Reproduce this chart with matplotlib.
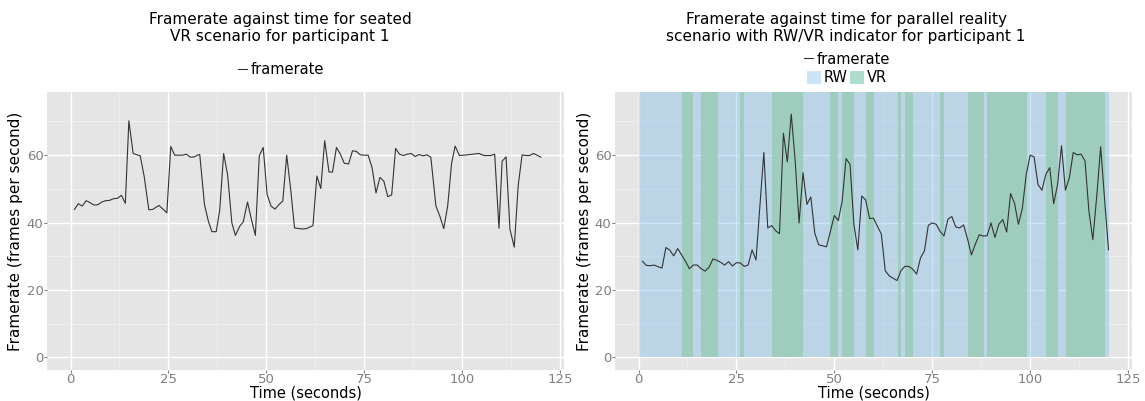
import matplotlib
matplotlib.use("Agg")
import matplotlib.pyplot as plt
from matplotlib.lines import Line2D
from matplotlib.patches import Patch

# seated VR scenario (left panel)
seated_t = [1, 2, 3, 4, 5, 6, 7, 8, 9, 10, 11, 12, 13, 14, 14.9, 16, 17.8, 18.8, 20, 21,
            22.6, 24.6, 25.6, 26.6, 27.6, 28.6, 29.6, 30.6, 31.6, 32.4, 33, 34.2, 35.2, 36.1,
            37.2, 38.1, 39.1, 40.1, 41.2, 42.1, 43.2, 44.1, 45.2, 46.2, 47.2, 48.2, 49.2, 50.2,
            51.2, 52.2, 53.2, 54.2, 55.2, 56.2, 57.2, 59.1, 60.2, 61.9, 62.9, 63.9, 64.9, 66,
            66.9, 67.9, 68.9, 69.9, 71, 72, 73, 74, 75, 76, 77, 78, 79, 80, 81, 82, 83, 84, 85,
            86, 87, 88, 89, 90, 91, 92, 93.3, 94.3, 95.3, 96.3, 97.3, 98.2, 99.3, 100.5, 104.3,
            105.6, 107.3, 108.3, 109.4, 110.2, 111.2, 112.2, 113.3, 114.3, 115.3, 116.3, 117.2,
            118.2, 119.1, 120.1]
seated_fps = [43.9, 45.6, 44.9, 46.5, 45.9, 45.2, 45.3, 46.1, 46.5, 46.6, 47.1, 47.2, 48.1, 45.7,
              70.2, 60.5, 59.8, 53.8, 43.8, 43.9, 45.1, 42.9, 62.6, 60.0, 60.0, 60.0, 60.3, 59.4,
              59.5, 60.0, 60.2, 45.4, 40.4, 37.3, 37.3, 43.7, 60.5, 54.3, 39.9, 36.2, 38.9, 40.2,
              46.1, 40.9, 36.2, 59.8, 62.3, 48.3, 44.9, 44.0, 45.3, 46.4, 60.0, 50.0, 38.4, 38.1,
              38.2, 39.1, 53.8, 50.1, 64.3, 55.0, 55.0, 62.3, 60.3, 57.6, 57.4, 61.3, 61.1, 60.1,
              60.0, 60.0, 56.3, 48.8, 53.4, 52.3, 47.7, 48.2, 62.0, 60.3, 59.9, 60.3, 60.5, 59.6,
              60.2, 59.8, 60.1, 59.4, 44.9, 41.9, 38.2, 44.9, 57.6, 62.7, 59.9, 60.0, 60.5, 59.9,
              59.9, 60.3, 38.3, 58.2, 59.5, 38.0, 32.7, 50.9, 60.1, 59.9, 59.9, 60.5, 60.0, 59.4]

# parallel reality scenario (right panel)
parallel_t = list(range(1, 121))
parallel_fps = [28.5, 27.3, 27.2, 27.4, 26.9, 26.5, 32.6, 31.8, 30.1, 32.3, 30.4, 28.5, 26.3,
                27.4, 27.4, 26.3, 25.6, 26.7, 29.2, 28.8, 28.2, 27.4, 28.4, 27.1, 28.1, 28.0,
                27.0, 27.4, 31.9, 28.9, 45.0, 60.8, 38.4, 39.1, 37.6, 36.7, 66.5, 58.0, 72.2,
                58.3, 39.9, 54.8, 45.4, 47.6, 36.9, 33.4, 33.1, 32.8, 37.4, 42.1, 40.6, 46.4,
                59.0, 57.3, 39.4, 31.9, 47.9, 46.7, 41.2, 41.3, 38.9, 36.6, 25.7, 24.2, 23.5,
                22.8, 25.7, 27.0, 27.0, 26.2, 24.7, 29.5, 31.6, 39.2, 39.9, 39.5, 37.4, 36.0,
                41.0, 41.8, 38.7, 38.4, 39.3, 35.2, 30.4, 33.6, 36.4, 36.0, 36.1, 39.9, 35.6,
                39.5, 40.9, 37.2, 48.6, 45.8, 39.5, 44.2, 54.3, 60.0, 59.5, 51.3, 49.6, 54.3,
                56.3, 45.6, 51.3, 62.8, 49.6, 53.3, 60.8, 60.1, 60.3, 58.3, 43.4, 34.9, 47.9,
                62.5, 46.9, 31.9]

# RW / VR indicator periods (seconds)
rw_span = (0, 120)
vr_start = [11, 16, 26, 34.2, 49, 52, 58.2, 66.2, 68.1, 77.1, 84.1, 89.1, 104.1, 109.2]
vr_end = [14, 20.2, 27, 42.1, 51, 55.1, 60.1, 67.1, 70.1, 78, 88.1, 99.2, 107.1, 119.1]

W, H = 1145, 401
fig = plt.figure(figsize=(W / 100, H / 100), dpi=100)

bg = '#E5E5E5'
tick_grey = '#7F7F7F'
line_col = '#333333'
rw_col = '#7DBDEC'
vr_col = '#38AB83'


def style_axes(ax):
    ax.set_facecolor(bg)
    for s in ax.spines.values():
        s.set_visible(False)
    ax.set_xlim(-6, 126)
    ax.set_ylim(-3.75, 78.75)
    ax.set_xticks([0, 25, 50, 75, 100, 125])
    ax.set_yticks([0, 20, 40, 60])
    ax.set_xticks([12.5, 37.5, 62.5, 87.5, 112.5], minor=True)
    ax.set_yticks([10, 30, 50, 70], minor=True)
    ax.grid(True, which='major', color='white', linewidth=1.0)
    ax.grid(True, which='minor', color='#F2F2F2', linewidth=0.5)
    ax.set_axisbelow(True)
    ax.tick_params(which='major', colors=tick_grey, labelsize=9.5, length=2, width=0.8, pad=0.5)
    ax.tick_params(which='minor', length=0)
    ax.set_xlabel('Time (seconds)', fontsize=10.5, va='bottom')
    ax.set_ylabel('Framerate (frames per second)', fontsize=11, va='center')
    ax.xaxis.set_label_coords(0.5, -30.9 / 278)


ax1 = fig.add_axes([47 / W, 1 - 370 / H, 517 / W, 278 / H])
ax2 = fig.add_axes([615 / W, 1 - 370 / H, 517 / W, 278 / H])
style_axes(ax1)
style_axes(ax2)
ax1.yaxis.set_label_coords(-31 / 517, 0.5)
ax2.yaxis.set_label_coords(-31 / 517, 0.5)

ax1.plot(seated_t, seated_fps, color=line_col, linewidth=0.8)

ax2.axvspan(rw_span[0], rw_span[1], ymin=3.75 / 82.5, ymax=1, color=rw_col, alpha=0.4, linewidth=0, zorder=1)
for a, b in zip(vr_start, vr_end):
    ax2.axvspan(a, b, ymin=3.75 / 82.5, ymax=1, color=bg, linewidth=0, zorder=1.1)
    ax2.axvspan(a, b, ymin=3.75 / 82.5, ymax=1, color=vr_col, alpha=0.4, linewidth=0, zorder=1.2)
ax2.plot(parallel_t, parallel_fps, color=line_col, linewidth=0.8, zorder=3)

# titles
fig.text(280 / W, 1 - 28 / H, 'Framerate against time for seated\nVR scenario for participant 1',
         ha='center', va='center', fontsize=11, linespacing=1.1)
fig.text(846 / W, 1 - 28 / H, 'Framerate against time for parallel reality\nscenario with RW/VR indicator for participant 1',
         ha='center', va='center', fontsize=11, linespacing=1.1)

# legends
fr_handle = [Line2D([], [], color=line_col, linewidth=0.8)]
fig.legend(fr_handle, ['framerate'], loc='center', bbox_to_anchor=(281 / W, 1 - 70 / H),
           frameon=False, fontsize=10.5, handlelength=0.6, handletextpad=0.2, borderpad=0)
fig.legend(fr_handle, ['framerate'], loc='center', bbox_to_anchor=(847 / W, 1 - 59 / H),
           frameon=False, fontsize=10.5, handlelength=0.6, handletextpad=0.2, borderpad=0)
patch_handles = [Patch(facecolor=rw_col, alpha=0.4, linewidth=0), Patch(facecolor=vr_col, alpha=0.4, linewidth=0)]
fig.legend(patch_handles, ['RW', 'VR'], loc='center', bbox_to_anchor=(847 / W, 1 - 78 / H),
           frameon=False, fontsize=10.5, ncol=2, handlelength=0.9, handleheight=0.9,
           handletextpad=0.2, columnspacing=0.2, borderpad=0)

fig.savefig('out.png', dpi=100)
